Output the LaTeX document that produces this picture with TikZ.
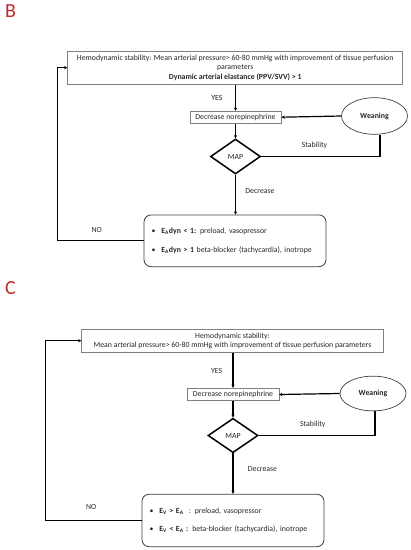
\documentclass[tikz,border=0pt]{standalone}
\usepackage{fontspec}
\setmainfont{Carlito}
\usetikzlibrary{shapes.geometric,arrows.meta}
\definecolor{lblred}{HTML}{C0282D}
\definecolor{txt}{HTML}{262626}
\definecolor{boxgray}{HTML}{808080}
\definecolor{darkgray}{HTML}{404040}
\tikzset{
  base/.style={font=\fontsize{7.8}{9.3}\selectfont, text=txt},
  sqbox/.style={base, draw=boxgray, line width=0.6pt, inner sep=0pt, align=center},
  resbox/.style={base, draw=darkgray, line width=0.8pt, rounded corners=7pt, inner xsep=7.5pt, inner ysep=0pt, align=left, minimum width=182pt, text width=167pt},
  wean/.style={base, ellipse, draw=darkgray, line width=0.7pt, inner sep=0pt, font=\fontsize{7.8}{9.3}\selectfont\bfseries},
  mapdia/.style={base, diamond, draw=black, line width=1.5pt, inner sep=0pt, aspect=1.43},
  lbl/.style={base},
  conn/.style={draw=black, line width=1.2pt},
  arr/.style={conn, -{Stealth[length=3.2pt,width=3.2pt]}},
  panel/.style={font=\fontsize{20}{22}\selectfont, text=lblred, inner sep=0pt, anchor=north west}
}
\begin{document}
\begin{tikzpicture}[x=1pt,y=-1pt]
\useasboundingbox (0,0) rectangle (411,550);
% ---------------- Panel B ----------------
\node[panel] (pB) at (5,4) {B};
\node[sqbox, minimum width=335pt, minimum height=33.3pt] (topB) at (235.2,67.7)
  {Hemodynamic stability: Mean arterial pressure> 60-80 mmHg with improvement of tissue perfusion\\
   parameters\\[0.8pt] \textbf{Dynamic arterial elastance (PPV/SVV) > 1}};
\node[sqbox, minimum width=91.4pt, minimum height=12.3pt] (decB) at (235.5,117.2) {Decrease norepinephrine};
\node[wean, minimum width=66pt, minimum height=36.6pt] (wB) at (374.5,116) {Weaning};
\node[mapdia, minimum width=50pt, minimum height=35pt] (mapB) at (235.5,156.5) {MAP};
\node[resbox, minimum height=51.7pt] (resB) at (235,240.8)
  {\textbullet\hspace{6pt}\textbf{E\textsubscript{A}dyn < 1:} preload, vasopressor\\[9.5pt]
   \textbullet\hspace{6pt}\textbf{E\textsubscript{A}dyn > 1} beta-blocker (tachycardia), inotrope};
\coordinate (sB) at (380,156.5);
\coordinate (lB1) at (57.3,240.8);
\coordinate (lB2) at (57.3,67.7);
\draw[arr] (topB.south -| decB.north) -- (decB.north);
\draw[arr] (wB.west) -- (decB.east);
\draw[arr] (decB.south) -- (mapB.north);
\draw[arr] (mapB.south) -- (resB.north -| mapB.south);
\draw[conn] (mapB.east) -- (sB) -- (sB |- wB.south);
\draw[arr] (resB.west) -- (lB1) -- (lB2) -- (topB.west);
\node[lbl] (yesB) at (217,97.7) {YES};
\node[lbl] (stabB) at (314.5,145.7) {Stability};
\node[lbl] (decrB) at (260,191) {Decrease};
\node[lbl] (noB) at (96.7,230) {NO};
% ---------------- Panel C ----------------
\node[panel] (pC) at (5,281) {C};
\node[sqbox, minimum width=301.6pt, minimum height=23.3pt] (topC) at (232.5,340.7)
  {Hemodynamic stability:\\
   Mean arterial pressure> 60-80 mmHg with improvement of tissue perfusion parameters};
\node[sqbox, minimum width=91.6pt, minimum height=12.5pt] (decC) at (233,394.5) {Decrease norepinephrine};
\node[wean, minimum width=66pt, minimum height=34.7pt] (wC) at (373,393.5) {Weaning};
\node[mapdia, minimum width=50pt, minimum height=34.4pt] (mapC) at (233,435.5) {MAP};
\node[resbox, minimum height=52.4pt] (resC) at (233,520.5)
  {\textbullet\hspace{6pt}\textbf{E\textsubscript{V} > E\textsubscript{A}}\ \ : preload, vasopressor\\[9.5pt]
   \textbullet\hspace{6pt}\textbf{E\textsubscript{V} < E\textsubscript{A} :} beta-blocker (tachycardia), inotrope};
\coordinate (sC) at (375,435.5);
\coordinate (lC1) at (45.7,520.5);
\coordinate (lC2) at (45.7,340.7);
\draw[arr] (topC.south -| decC.north) -- (decC.north);
\draw[arr] (wC.west) -- (decC.east);
\draw[arr] (decC.south) -- (mapC.north);
\draw[arr] (mapC.south) -- (resC.north -| mapC.south);
\draw[conn] (mapC.east) -- (sC) -- (sC |- wC.south);
\draw[arr] (resC.west) -- (lC1) -- (lC2) -- (topC.west);
\node[lbl] (yesC) at (216.7,371) {YES};
\node[lbl] (stabC) at (312.8,424.3) {Stability};
\node[lbl] (decrC) at (262.5,469.3) {Decrease};
\node[lbl] (noC) at (91.3,506.7) {NO};
\end{tikzpicture}
\end{document}
